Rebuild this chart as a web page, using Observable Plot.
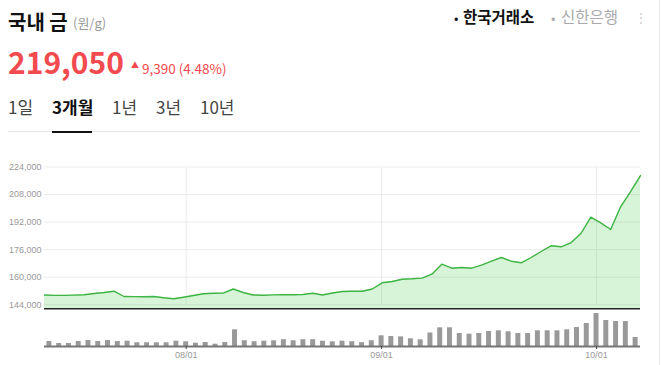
<!DOCTYPE html>
<html>
<head>
<meta charset="utf-8">
<script src="https://cdn.jsdelivr.net/npm/d3@7"></script>
<script src="https://cdn.jsdelivr.net/npm/@observablehq/plot@0.6"></script>
<style>
  html, body { margin: 0; padding: 0; background: #fff; }
  #page { position: relative; width: 661px; height: 365px; overflow: hidden; font-family: "Noto Sans CJK KR", sans-serif; }
  .t { position: absolute; white-space: nowrap; line-height: 1; }
  #topChart, #bottomChart { position: absolute; left: 0; }
  #topChart { top: 150px; }
  #bottomChart { top: 310px; }
</style>
</head>
<body>
<div id="page">
  <div class="t" style="left:8px;top:12px;font-size:20px;font-weight:700;color:#111;">국내 금</div>
  <div class="t" style="left:73px;top:16px;font-size:13px;color:#999;">(원/g)</div>
  <div class="t" style="left:8px;top:46px;font-size:30px;font-weight:700;color:#f24a4f;">219,050</div>
  <div class="t" style="left:131px;top:61px;font-size:8px;color:#f24a4f;">▲</div>
  <div class="t" style="left:142px;top:61.5px;font-size:13.5px;color:#f24a4f;">9,390 (4.48%)</div>

  <div class="t" style="left:8px;top:98px;font-size:17px;color:#444;">1일</div>
  <div class="t" style="left:52px;top:98px;font-size:17px;font-weight:700;color:#111;">3개월</div>
  <div class="t" style="left:112px;top:98px;font-size:17px;color:#444;">1년</div>
  <div class="t" style="left:156px;top:98px;font-size:17px;color:#444;">3년</div>
  <div class="t" style="left:200px;top:98px;font-size:17px;color:#444;">10년</div>
  <div style="position:absolute;left:8px;top:131px;width:632px;height:1px;background:#e6e6e6;"></div>
  <div style="position:absolute;left:52px;top:130.5px;width:40px;height:2px;background:#111;"></div>

  <div class="t" style="left:454px;top:10.5px;font-size:13px;color:#111;">•</div>
  <div class="t" style="left:463px;top:9px;font-size:15.5px;font-weight:700;color:#111;">한국거래소</div>
  <div class="t" style="left:551px;top:10.5px;font-size:13px;color:#aaa;">•</div>
  <div class="t" style="left:561px;top:9px;font-size:15.5px;color:#aaa;">신한은행</div>
  <div class="t" style="left:634px;top:9.5px;font-size:14px;color:#ccc;">⋮</div>
  <div style="position:absolute;left:659px;top:0;width:1px;height:365px;background:#e8e8e8;"></div>

  <div id="topChart"></div>
  <div id="bottomChart"></div>
</div>
<script>
const dates = ["07/14","07/15","07/16","07/17","07/18","07/21","07/22","07/23","07/24","07/25",
  "07/28","07/29","07/30","07/31","08/01","08/04","08/05","08/06","08/07","08/08",
  "08/11","08/12","08/13","08/14","08/18","08/19","08/20","08/21","08/22","08/25",
  "08/26","08/27","08/28","08/29","09/01","09/02","09/03","09/04","09/05","09/08",
  "09/09","09/10","09/11","09/12","09/15","09/16","09/17","09/18","09/19","09/22",
  "09/23","09/24","09/25","09/26","09/29","09/30","10/01","10/02","10/10","10/13",
  "10/14"];

const prices = [149700,149500,149500,149630,149800,150560,151140,151900,148820,148760,
  148640,148820,148120,147480,148410,149400,150390,150730,150790,153170,
  151140,149690,149570,149750,149800,149860,149980,150680,149690,150850,
  151720,151900,151840,153170,156770,157530,158860,159090,159500,161760,
  167570,165250,165650,165250,166990,169310,171460,169310,168380,171460,
  174940,178250,177670,179990,185390,194860,191600,187720,200890,209660,
  219050];

const volumes = [50,30,30,50,60,50,60,50,53,37,
  37,37,37,53,47,33,40,23,40,167,
  58,48,53,57,68,57,68,68,53,47,
  53,48,38,58,107,100,96,77,67,135,
  187,187,130,123,130,150,157,147,130,130,
  157,157,157,167,190,230,330,260,250,250,
  90];

const yTicks = [144000, 160000, 176000, 192000, 208000, 224000];
const yMin = 141680;

const n = dates.length;
const data = dates.map((d, i) => ({i, date: d, price: prices[i], volume: volumes[i]}));
const monthStarts = data.filter(d => d.date.endsWith("/01"));

// line points span the full width; bars/ticks sit at band centres
const lineX = d => d.i * n / (n - 1);
const bandC = d => d.i + 0.5;

const common = {width: 661, marginLeft: 44, marginRight: 21};

const priceChart = Plot.plot({
  ...common,
  height: 160,
  marginTop: 16.5,
  marginBottom: 1.7,
  x: {domain: [0, n], axis: null},
  y: {domain: [yMin, 224000], axis: null},
  marks: [
    Plot.ruleY(yTicks, {stroke: "#ebebeb", strokeWidth: 1}),
    Plot.ruleX(monthStarts, {x: bandC, y1: 144000, y2: 224000, stroke: "#ebebeb", strokeWidth: 1}),
    Plot.areaY(data, {x: lineX, y1: yMin, y2: "price", fill: "rgb(60,200,60)", fillOpacity: 0.2}),
    Plot.lineY(data, {x: lineX, y: "price", stroke: "#3db443", strokeWidth: 1.4}),
    Plot.ruleY([yMin], {stroke: "#222", strokeWidth: 1.6}),
    Plot.axisY(yTicks, {anchor: "left", label: null, tickSize: 0, tickPadding: 3, tickFormat: d3.format(","), fontSize: 9, fill: "#999", fontFamily: "Liberation Sans, Arial, sans-serif"})
  ]
});
document.getElementById("topChart").appendChild(priceChart);

const volumeChart = Plot.plot({
  ...common,
  height: 55,
  marginTop: 3,
  marginBottom: 19,
  x: {domain: [0, n]},
  y: {domain: [0, 330], axis: null},
  marks: [
    Plot.rectY(data, {x1: d => d.i, x2: d => d.i + 1, y: "volume", fill: "#999", insetLeft: 2.4, insetRight: 2.4}),
    Plot.ruleY([0], {stroke: "#777", strokeWidth: 2}),
    Plot.axisX(monthStarts.map(bandC), {
      label: null, tickSize: 3, tickPadding: 2, stroke: "#444",
      tickFormat: v => dates[Math.round(v - 0.5)],
      fontSize: 9, fill: "#999", fontFamily: "Liberation Sans, Arial, sans-serif"
    })
  ]
});
document.getElementById("bottomChart").appendChild(volumeChart);
</script>
</body>
</html>
